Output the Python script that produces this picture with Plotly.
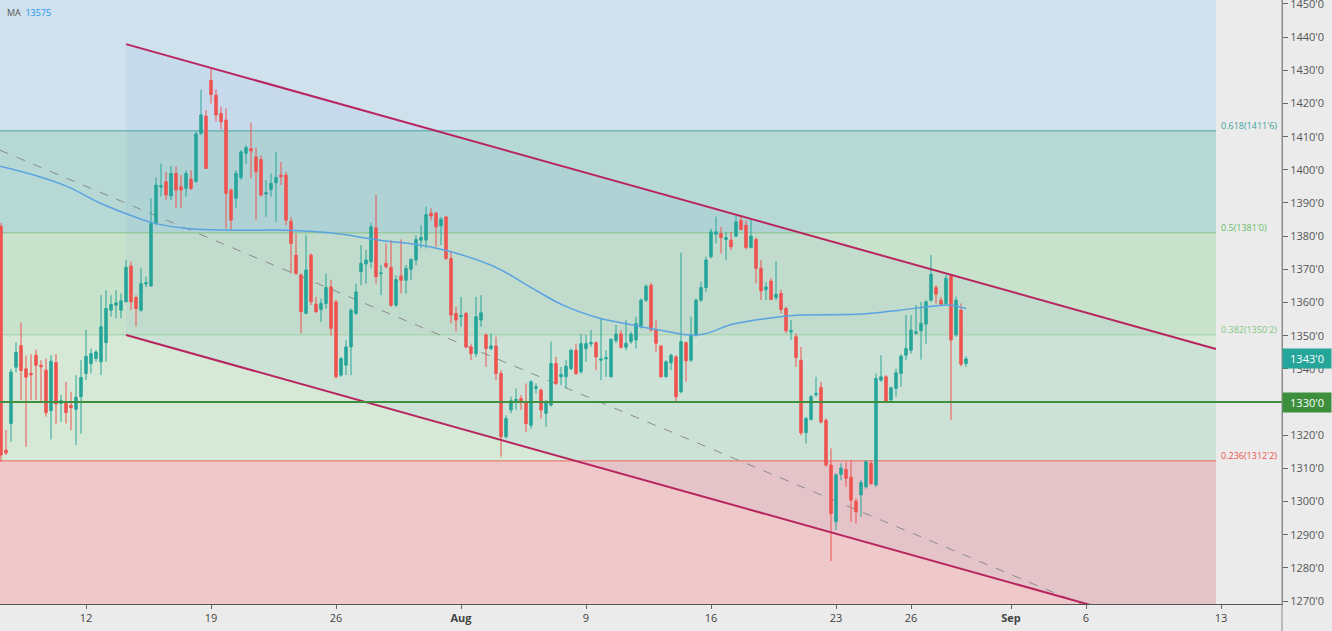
import plotly.graph_objects as go

# ---------------- data ----------------
opens = [1383.0, 1315.5, 1323.5, 1340.5, 1347.0, 1340.0, 1338.6, 1344.1, 1341.1, 1339.6,
         1327.4, 1341.9, 1329.6, 1330.1, 1329.0, 1327.8, 1331.6, 1338.6, 1341.6, 1343.1,
         1342.1, 1347.9, 1357.7, 1359.2, 1357.7, 1360.2, 1371.0, 1361.5, 1357.7, 1365.6,
         1365.0, 1383.8, 1394.8, 1396.4, 1392.1, 1398.9, 1394.9, 1394.4, 1397.2, 1396.4,
         1411.0, 1416.2, 1427.0, 1422.5, 1417.0, 1415.0, 1393.9, 1391.4, 1397.7, 1405.0,
         1406.4, 1403.9, 1403.1, 1392.7, 1394.1, 1396.1, 1398.4, 1398.4, 1384.5, 1374.3,
         1368.3, 1356.7, 1374.3, 1359.5, 1357.9, 1359.7, 1364.7, 1360.2, 1338.1, 1341.1,
         1346.6, 1356.7, 1369.3, 1371.6, 1372.3, 1382.5, 1368.7, 1371.8, 1370.6, 1359.2,
         1368.0, 1366.7, 1370.0, 1372.8, 1378.8, 1378.8, 1386.9, 1386.9, 1383.1, 1385.8,
         1373.3, 1356.7, 1355.7, 1356.7, 1346.6, 1344.6, 1354.7, 1350.2, 1346.1, 1346.9,
         1338.6, 1319.5, 1327.6, 1330.4, 1331.1, 1329.8, 1323.0, 1334.1, 1333.6, 1326.6,
         1329.1, 1341.6, 1337.6, 1337.6, 1340.1, 1345.6, 1339.1, 1346.1, 1347.5, 1347.9,
         1342.6, 1343.0, 1337.6, 1348.5, 1350.5, 1346.5, 1348.2, 1348.7, 1352.7, 1360.7,
         1365.2, 1351.7, 1346.9, 1337.6, 1341.8, 1343.6, 1333.1, 1347.9, 1342.6, 1350.2,
         1360.7, 1364.5, 1373.8, 1380.6, 1380.8, 1379.0, 1378.8, 1380.0, 1384.8, 1383.3,
         1376.6, 1379.0, 1370.3, 1363.9, 1366.5, 1361.5, 1362.7, 1358.2, 1351.1, 1349.7,
         1342.6, 1320.7, 1324.7, 1332.2, 1334.4, 1324.5, 1311.0, 1293.9, 1308.2, 1309.7,
         1307.3, 1300.1, 1302.0, 1304.4, 1311.5, 1305.0, 1336.6, 1337.6, 1330.6, 1334.1,
         1338.6, 1344.1, 1345.6, 1350.7, 1351.5, 1353.5, 1360.7, 1364.5, 1360.7, 1359.7,
         1368.0, 1350.2, 1357.7, 1341.6]
highs = [1384.0, 1321.6, 1340.0, 1348.0, 1354.0, 1344.0, 1344.4, 1345.8, 1342.6, 1343.1,
         1344.1, 1344.4, 1332.1, 1336.1, 1333.1, 1338.1, 1342.6, 1351.7, 1346.1, 1345.6,
         1362.2, 1363.7, 1362.2, 1363.7, 1362.7, 1372.8, 1372.3, 1362.2, 1370.3, 1367.8,
         1391.4, 1397.7, 1401.9, 1399.4, 1401.1, 1401.1, 1398.4, 1399.9, 1399.9, 1411.5,
         1424.2, 1418.0, 1430.6, 1424.2, 1419.0, 1418.5, 1394.4, 1399.9, 1406.0, 1407.4,
         1414.2, 1406.7, 1404.4, 1396.9, 1398.9, 1405.4, 1402.4, 1399.4, 1385.8, 1380.8,
         1368.8, 1380.3, 1374.8, 1361.7, 1361.2, 1368.8, 1366.9, 1360.7, 1343.6, 1348.7,
         1358.2, 1365.7, 1377.3, 1375.8, 1384.0, 1392.4, 1371.3, 1377.8, 1378.8, 1368.2,
         1379.0, 1371.3, 1373.3, 1380.3, 1383.3, 1388.9, 1388.4, 1387.4, 1385.8, 1386.0,
         1375.3, 1358.7, 1361.7, 1357.2, 1347.6, 1361.7, 1362.2, 1350.7, 1350.7, 1349.7,
         1339.6, 1326.0, 1331.6, 1334.1, 1332.1, 1335.6, 1336.6, 1335.6, 1334.1, 1330.6,
         1348.2, 1343.6, 1340.6, 1342.6, 1346.1, 1347.6, 1350.5, 1350.2, 1351.7, 1348.2,
         1355.2, 1345.6, 1349.2, 1353.2, 1351.7, 1354.7, 1351.2, 1355.7, 1361.2, 1365.5,
         1365.9, 1354.7, 1347.2, 1342.6, 1344.6, 1344.1, 1375.0, 1348.2, 1355.7, 1361.2,
         1366.2, 1373.8, 1382.3, 1385.9, 1382.8, 1381.3, 1381.3, 1386.3, 1386.3, 1384.8,
         1385.3, 1379.6, 1372.8, 1366.2, 1367.3, 1372.3, 1363.9, 1358.7, 1354.7, 1350.7,
         1346.6, 1325.5, 1332.1, 1337.6, 1336.1, 1325.0, 1316.0, 1308.5, 1311.5, 1312.0,
         1312.5, 1300.9, 1306.5, 1312.5, 1312.5, 1338.6, 1344.1, 1338.1, 1334.6, 1340.1,
         1344.4, 1356.2, 1356.2, 1359.2, 1360.2, 1360.7, 1374.3, 1365.2, 1361.7, 1368.3,
         1368.3, 1361.7, 1359.7, 1343.8]
lows = [1312.0, 1314.0, 1318.0, 1339.0, 1330.5, 1316.5, 1330.6, 1330.6, 1329.6, 1325.6,
        1318.7, 1323.3, 1324.0, 1323.5, 1321.5, 1317.0, 1320.5, 1336.6, 1338.6, 1342.1,
        1338.1, 1342.1, 1355.7, 1355.2, 1355.2, 1360.2, 1357.7, 1352.7, 1357.2, 1364.7,
        1364.8, 1383.3, 1391.9, 1390.9, 1390.9, 1388.4, 1388.4, 1391.9, 1393.9, 1396.4,
        1410.5, 1400.4, 1420.0, 1414.5, 1412.2, 1382.3, 1381.8, 1388.4, 1396.9, 1401.9,
        1397.4, 1384.8, 1391.9, 1385.8, 1391.9, 1384.3, 1395.4, 1383.3, 1368.8, 1368.3,
        1350.7, 1356.7, 1359.2, 1356.9, 1354.2, 1358.2, 1350.0, 1337.1, 1337.6, 1338.1,
        1338.1, 1356.2, 1365.2, 1365.7, 1370.3, 1365.7, 1362.2, 1370.3, 1358.7, 1358.7,
        1362.7, 1362.7, 1366.7, 1371.3, 1376.3, 1376.3, 1384.8, 1376.8, 1377.3, 1372.8,
        1353.7, 1351.2, 1352.7, 1346.1, 1342.6, 1343.6, 1352.7, 1340.6, 1345.6, 1336.6,
        1313.5, 1319.0, 1326.6, 1327.6, 1327.6, 1321.0, 1322.0, 1332.6, 1325.0, 1322.5,
        1328.6, 1335.1, 1335.1, 1334.1, 1339.6, 1338.1, 1338.6, 1342.1, 1346.6, 1339.6,
        1336.6, 1337.6, 1337.4, 1347.7, 1346.1, 1345.6, 1347.6, 1346.1, 1352.2, 1360.2,
        1351.2, 1345.1, 1337.4, 1337.4, 1339.6, 1330.1, 1332.6, 1336.1, 1342.1, 1349.7,
        1360.2, 1363.2, 1373.3, 1377.8, 1374.8, 1372.8, 1375.8, 1379.8, 1381.8, 1376.0,
        1376.3, 1365.8, 1360.7, 1360.7, 1360.7, 1360.7, 1356.7, 1350.7, 1348.7, 1340.6,
        1320.0, 1317.5, 1324.5, 1331.6, 1323.5, 1310.5, 1282.0, 1291.4, 1306.4, 1304.4,
        1293.9, 1293.4, 1295.4, 1303.9, 1305.0, 1304.4, 1336.1, 1329.6, 1330.4, 1331.6,
        1334.6, 1342.6, 1344.6, 1350.2, 1342.8, 1347.6, 1360.2, 1359.7, 1359.2, 1359.2,
        1324.5, 1349.7, 1340.8, 1340.6]
closes = [1314.0, 1314.6, 1339.0, 1345.0, 1339.5, 1337.5, 1338.2, 1341.1, 1340.6, 1326.8,
          1342.3, 1329.4, 1330.4, 1326.8, 1328.3, 1331.4, 1337.4, 1343.8, 1344.6, 1345.1,
          1352.7, 1358.2, 1359.4, 1359.9, 1360.5, 1370.6, 1360.2, 1358.2, 1365.7, 1366.0,
          1383.8, 1395.4, 1395.2, 1392.4, 1398.9, 1393.9, 1393.9, 1398.9, 1394.4, 1410.8,
          1416.5, 1400.4, 1422.7, 1416.5, 1414.5, 1392.9, 1384.8, 1398.9, 1405.4, 1406.7,
          1405.7, 1399.4, 1392.4, 1393.1, 1395.9, 1397.7, 1397.9, 1384.8, 1377.8, 1368.8,
          1357.2, 1369.8, 1360.2, 1357.2, 1359.7, 1364.5, 1352.2, 1337.6, 1343.1, 1346.6,
          1357.7, 1363.2, 1371.8, 1372.8, 1382.8, 1367.8, 1368.9, 1370.8, 1359.2, 1366.9,
          1366.7, 1370.3, 1373.0, 1379.0, 1379.6, 1386.5, 1386.1, 1382.8, 1385.1, 1373.3,
          1356.2, 1354.7, 1356.1, 1346.6, 1344.6, 1355.7, 1356.9, 1346.1, 1346.9, 1338.6,
          1319.5, 1325.0, 1330.4, 1330.8, 1329.8, 1323.5, 1336.1, 1334.6, 1327.6, 1329.8,
          1341.6, 1335.6, 1338.3, 1340.8, 1345.6, 1338.6, 1347.6, 1347.6, 1347.9, 1343.6,
          1343.0, 1343.4, 1348.9, 1350.5, 1346.5, 1347.7, 1350.5, 1353.7, 1360.7, 1364.9,
          1351.7, 1347.7, 1337.6, 1342.1, 1344.1, 1331.6, 1348.2, 1342.4, 1350.2, 1360.7,
          1364.5, 1372.8, 1381.3, 1381.3, 1379.6, 1379.6, 1376.8, 1384.3, 1382.0, 1376.6,
          1380.0, 1370.3, 1363.5, 1364.7, 1360.9, 1362.5, 1357.9, 1351.5, 1351.5, 1343.4,
          1320.7, 1325.0, 1331.6, 1332.6, 1324.0, 1311.0, 1296.4, 1308.0, 1310.1, 1307.0,
          1300.4, 1296.9, 1305.7, 1312.0, 1305.4, 1337.1, 1337.6, 1330.1, 1334.3, 1338.8,
          1343.8, 1346.1, 1351.7, 1351.2, 1353.7, 1360.2, 1368.5, 1362.5, 1359.5, 1367.3,
          1348.7, 1360.7, 1341.4, 1343.0]
bars = list(range(len(opens)))

# moving average, read at sample bars
ma_bars = [-0.2, 6.4, 13.2, 19.8, 26.4, 30.4, 37.2, 46.4, 57.2, 65.8, 75.8, 85.8, 98.4,
           105.8, 112.4, 119.2, 125.8, 132.4, 136.4, 140.4, 146.4, 153.2, 159.8, 172.4,
           179.8, 186.4, 189.8, 193.0]
ma_vals = [1401.1, 1398.5, 1395.0, 1390.0, 1386.0, 1384.0, 1382.3, 1381.8, 1381.8, 1381.0,
           1378.8, 1376.8, 1371.0, 1364.7, 1359.2, 1355.5, 1353.4, 1351.5, 1350.4, 1350.4,
           1353.5, 1355.2, 1356.2, 1356.5, 1357.7, 1358.9, 1359.2, 1358.2]
ma_label = "13575"

fib_ratios = ["0.618", "0.5", "0.382", "0.236"]
fib_levels = [1411.75, 1381.0, 1350.25, 1312.25]
fib_texts = ["1411'6", "1381'0", "1350'2", "1312'2"]

support_level = 1330.0
support_text = "1330'0"
last_price = 1343.0
last_text = "1343'0"

channel_upper_x = [25, 243]
channel_upper_y = [1437.9, 1346.0]
channel_lower_x = [25, 243]
channel_lower_y = [1350.2, 1258.2]
trend_x = [-0.2, 216.8]
trend_y = [1405.9, 1268.6]
fib_end_bar = 243

x_tick_bars = [17, 42, 67, 92, 117, 142, 167, 182, 202, 217, 244]
x_tick_labels = ["12", "19", "26", "<b>Aug</b>", "9", "16", "23", "26", "<b>Sep</b>", "6", "13"]
y_ticks = list(range(1270, 1451, 10))
y_tick_labels = [f"{v}'0" for v in y_ticks]

# ---------------- styling ----------------
UP = "#26a69a"
DOWN = "#ef5350"
Y_RANGE = [1269.1, 1451.2]
X_RANGE = [-0.2, 256.2]

zone_colors = ["#d0e1ee", "#b6d9d6", "#c9e2cc", "#d6e9d7", "#efc9c9"]
fib_line_colors = ["#4fa3a6", "#82c08a", "#9fd0a3", "#e8685c"]
fib_text_colors = ["#3ea39e", "#66bb6a", "#81c784", "#ef5350"]

fig = go.Figure()

fig.add_trace(go.Candlestick(
    x=bars, open=opens, high=highs, low=lows, close=closes,
    increasing=dict(line=dict(color=UP, width=1), fillcolor=UP),
    decreasing=dict(line=dict(color=DOWN, width=1), fillcolor=DOWN),
    hoverinfo="skip", showlegend=False,
))

fig.add_trace(go.Scatter(
    x=ma_bars, y=ma_vals, mode="lines", line=dict(color="#5aa3e0", width=1.5, shape="spline"),
    hoverinfo="skip", showlegend=False,
))

for xs, ys in [(channel_upper_x, channel_upper_y), (channel_lower_x, channel_lower_y)]:
    fig.add_trace(go.Scatter(
        x=xs, y=ys, mode="lines", line=dict(color="#b8245f", width=2),
        hoverinfo="skip", showlegend=False, cliponaxis=True,
    ))

shapes = []
# fib zones
bounds = [Y_RANGE[1]] + fib_levels + [Y_RANGE[0]]
for i, col in enumerate(zone_colors):
    shapes.append(dict(type="rect", xref="x", yref="y", x0=X_RANGE[0], x1=fib_end_bar,
                       y0=bounds[i + 1], y1=bounds[i], fillcolor=col, line=dict(width=0),
                       layer="below"))
# channel fill
path = (f"M {channel_upper_x[0]},{channel_upper_y[0]} L {channel_upper_x[1]},{channel_upper_y[1]} "
        f"L {channel_lower_x[1]},{channel_lower_y[1]} L {channel_lower_x[0]},{channel_lower_y[0]} Z")
shapes.append(dict(type="path", xref="x", yref="y", path=path,
                   fillcolor="rgba(60,120,200,0.06)", line=dict(width=0), layer="below"))
# fib lines
for lvl, col in zip(fib_levels, fib_line_colors):
    shapes.append(dict(type="line", xref="x", yref="y", x0=X_RANGE[0], x1=fib_end_bar,
                       y0=lvl, y1=lvl, line=dict(color=col, width=1), layer="below"))
# dashed trend line
shapes.append(dict(type="line", xref="x", yref="y", x0=trend_x[0], x1=trend_x[1],
                   y0=trend_y[0], y1=trend_y[1], line=dict(color="#8c8c8c", width=1, dash="dash"),
                   layer="below"))
# support line
shapes.append(dict(type="line", xref="paper", yref="y", x0=0, x1=1,
                   y0=support_level, y1=support_level,
                   line=dict(color="#3f8f3f", width=2), layer="above"))
# axis separator extending through the x-axis band
shapes.append(dict(type="line", xref="paper", yref="paper", x0=1, x1=1, y0=-27 / 604, y1=1,
                   line=dict(color="#8a8a8a", width=1)))

annotations = []
for r, lvl, txt, col in zip(fib_ratios, fib_levels, fib_texts, fib_text_colors):
    annotations.append(dict(x=fib_end_bar + 0.5, y=lvl, xref="x", yref="y", xanchor="left",
                            yanchor="middle", yshift=5, showarrow=False,
                            text=f"{r}({txt})", font=dict(size=9, color=col)))
annotations.append(dict(x=1, y=last_price, xref="paper", yref="y", xanchor="left",
                        yanchor="middle", showarrow=False, text=last_text, width=44,
                        bgcolor="#26a69a", borderpad=2, font=dict(size=11, color="white")))
annotations.append(dict(x=1, y=support_level, xref="paper", yref="y", xanchor="left",
                        yanchor="middle", showarrow=False, text=support_text, width=44,
                        bgcolor="#3d8f3d", borderpad=2, font=dict(size=11, color="white")))
annotations.append(dict(x=0.004, y=0.98, xref="paper", yref="paper", xanchor="left",
                        yanchor="middle", showarrow=False,
                        text=f"MA&nbsp;&nbsp;<span style='color:#2196f3'>{ma_label}</span>",
                        font=dict(size=9, color="#555555")))

fig.update_layout(
    width=1332, height=631,
    margin=dict(l=0, r=50, t=0, b=27, autoexpand=False),
    paper_bgcolor="#ebebeb", plot_bgcolor="#ebebeb",
    font=dict(family="Open Sans, Arial, sans-serif", color="#444"),
    showlegend=False,
    shapes=shapes, annotations=annotations,
    xaxis=dict(range=X_RANGE, tickmode="array", tickvals=x_tick_bars, ticktext=x_tick_labels,
               showgrid=False, zeroline=False, ticks="outside", ticklen=4, tickcolor="#666",
               showline=True, linecolor="#555", linewidth=1, rangeslider=dict(visible=False),
               tickfont=dict(size=11, color="#444"), fixedrange=True, automargin=False),
    yaxis=dict(range=Y_RANGE, side="right", tickmode="array", tickvals=y_ticks,
               ticktext=y_tick_labels, showgrid=False, zeroline=False, ticks="outside",
               ticklen=5, tickcolor="#666", showline=True, linecolor="#8a8a8a",
               ticklabeloverflow="allow", automargin=False,
               tickfont=dict(size=11, color="#555"), fixedrange=True),
)

fig.write_html("out.html")
